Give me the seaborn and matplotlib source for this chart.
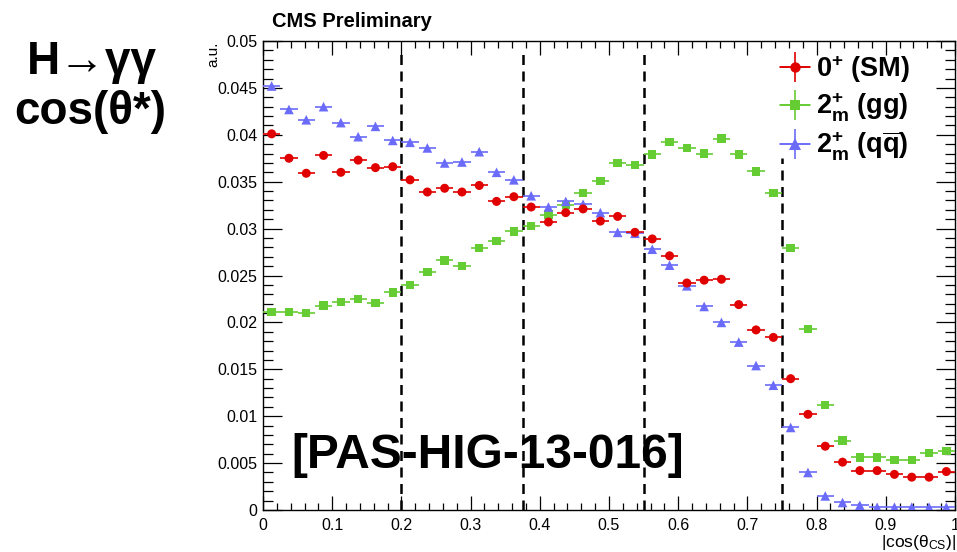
import numpy as np
import pandas as pd
import matplotlib
matplotlib.use("Agg")
import matplotlib.pyplot as plt
import seaborn as sns
from matplotlib.lines import Line2D
from matplotlib.ticker import MultipleLocator, FixedLocator
from matplotlib.legend_handler import HandlerTuple

# ---------------- data ----------------
bin_lo, bin_hi, n_bins = 0.0, 1.0, 40

sm_0p = [0.0401, 0.0375, 0.0359, 0.0378, 0.0360, 0.0373, 0.0365, 0.0366, 0.0352, 0.0339,
         0.0343, 0.0339, 0.0346, 0.0329, 0.0334, 0.0323, 0.0307, 0.0317, 0.0321, 0.0308,
         0.0313, 0.0296, 0.0289, 0.0271, 0.0242, 0.0245, 0.0246, 0.0219, 0.0192, 0.0184,
         0.0140, 0.0102, 0.0068, 0.0051, 0.0042, 0.0042, 0.0038, 0.0035, 0.0035, 0.0041]

g2m_gg = [0.0211, 0.0211, 0.0210, 0.0218, 0.0222, 0.0225, 0.0221, 0.0232, 0.0240, 0.0254,
          0.0266, 0.0260, 0.0279, 0.0287, 0.0297, 0.0303, 0.0315, 0.0325, 0.0338, 0.0351,
          0.0370, 0.0368, 0.0379, 0.0392, 0.0386, 0.0380, 0.0396, 0.0379, 0.0361, 0.0338,
          0.0279, 0.0193, 0.0112, 0.0074, 0.0056, 0.0056, 0.0053, 0.0053, 0.0061, 0.0063]

g2m_qq = [0.0452, 0.0427, 0.0416, 0.0430, 0.0413, 0.0398, 0.0409, 0.0394, 0.0392, 0.0386,
          0.0370, 0.0371, 0.0382, 0.0360, 0.0352, 0.0335, 0.0323, 0.0329, 0.0326, 0.0317,
          0.0296, 0.0295, 0.0278, 0.0261, 0.0239, 0.0217, 0.0200, 0.0179, 0.0154, 0.0133,
          0.0088, 0.0040, 0.0015, 0.0008, 0.0005, 0.0003, 0.0003, 0.0003, 0.0003, 0.0003]

err_sm, err_gg, err_qq = 0.0004, 0.00015, 0.00012

series_labels = [r"$\mathbf{0}^{\mathbf{+}}$ (SM)",
                 r"$\mathbf{2}^{\mathbf{+}}_{\mathbf{m}}$ (gg)",
                 r"$\mathbf{2}^{\mathbf{+}}_{\mathbf{m}}$ (q$\mathbf{\overline{q}}$)"]

cut_edges = [0.2, 0.375, 0.55, 0.75]
cut_tops = [0.0492, 0.0492, 0.0492, 0.0375]

x_ticks = [0, 0.1, 0.2, 0.3, 0.4, 0.5, 0.6, 0.7, 0.8, 0.9, 1]
x_tick_labels = ["0", "0.1", "0.2", "0.3", "0.4", "0.5", "0.6", "0.7", "0.8", "0.9", "1"]
y_ticks = [0, 0.005, 0.01, 0.015, 0.02, 0.025, 0.03, 0.035, 0.04, 0.045, 0.05]
y_tick_labels = ["0", "0.005", "0.01", "0.015", "0.02", "0.025", "0.03", "0.035", "0.04", "0.045", "0.05"]

# ---------------- style ----------------
sns.set_theme(style="ticks")
plt.rcParams["font.family"] = ["Liberation Sans", "DejaVu Sans"]
plt.rcParams["mathtext.fontset"] = "custom"
plt.rcParams["mathtext.rm"] = "Liberation Sans"
plt.rcParams["mathtext.it"] = "Liberation Sans:italic"
plt.rcParams["mathtext.bf"] = "Liberation Sans:bold"
plt.rcParams["mathtext.sf"] = "Liberation Sans"
plt.rcParams["text.color"] = "black"
plt.rcParams["axes.labelcolor"] = "black"
plt.rcParams["xtick.color"] = "black"
plt.rcParams["ytick.color"] = "black"

edges = np.linspace(bin_lo, bin_hi, n_bins + 1)
centers = 0.5 * (edges[:-1] + edges[1:])
half_w = 0.5 * (edges[1] - edges[0])

frames = []
for name, vals in [("sm", sm_0p), ("gg", g2m_gg), ("qq", g2m_qq)]:
    frames.append(pd.DataFrame({"x": centers, "y": vals, "series": name}))
df = pd.concat(frames, ignore_index=True)

colors = {"sm": "#e00000", "gg": "#66cc33", "qq": "#6b6bfa"}
markers = {"sm": "o", "gg": "s", "qq": "^"}
msize = {"sm": 42, "gg": 36, "qq": 48}
errs = {"sm": err_sm, "gg": err_gg, "qq": err_qq}
zord = {"gg": 3, "qq": 4, "sm": 5}

fig = plt.figure(figsize=(9.57, 5.52), dpi=100)
ax = fig.add_axes([263 / 957, 1 - 510 / 552, (955 - 263) / 957, (510 - 41) / 552])

handles = {}
for key in ["gg", "qq", "sm"]:
    sub = df[df["series"] == key]
    ax.errorbar(sub["x"], sub["y"], xerr=half_w, yerr=errs[key], fmt="none",
                ecolor=colors[key], elinewidth=1.2, capsize=0, zorder=zord[key])
    sns.scatterplot(data=sub, x="x", y="y", color=colors[key], marker=markers[key],
                    s=msize[key], edgecolor="none", linewidth=0, legend=False, ax=ax,
                    zorder=zord[key] + 0.5)
    cross = Line2D([], [], color=colors[key], marker="+", linestyle="none",
                   markersize=22, markeredgewidth=1.2)
    hline = Line2D([], [], color=colors[key], linewidth=1.2)
    mark = Line2D([], [], color=colors[key], marker=markers[key], linestyle="none",
                  markersize=np.sqrt(msize[key]) * 1.15, markeredgewidth=0)
    handles[key] = (hline, cross, mark)

for xc, yt in zip(cut_edges, cut_tops):
    ax.plot([xc, xc], [0, yt], color="black", linestyle=(0, (4, 2.6)), linewidth=1.8, zorder=2)

ax.set_xlim(bin_lo, bin_hi)
ax.set_ylim(0, 0.05)
ax.xaxis.set_major_locator(FixedLocator(x_ticks))
ax.set_xticklabels(x_tick_labels)
ax.yaxis.set_major_locator(FixedLocator(y_ticks))
ax.set_yticklabels(y_tick_labels)
ax.xaxis.set_minor_locator(MultipleLocator(0.02))
ax.yaxis.set_minor_locator(MultipleLocator(0.001))
ax.tick_params(axis="both", which="both", direction="in", top=True, right=True,
               colors="black", labelsize=11.5, width=0.9)
ax.tick_params(axis="x", which="major", length=10, pad=6)
ax.tick_params(axis="x", which="minor", length=5)
ax.tick_params(axis="y", which="major", length=14, pad=4)
ax.tick_params(axis="y", which="minor", length=7)
for s in ax.spines.values():
    s.set_color("black")
    s.set_linewidth(1.0)
ax.set_xlabel("")
ax.set_ylabel("")
ax.grid(False)

leg = ax.legend([handles["sm"], handles["gg"], handles["qq"]], series_labels,
                handler_map={tuple: HandlerTuple(ndivide=1)},
                loc="upper left", bbox_to_anchor=(780 / 957, 1 - 53 / 552),
                bbox_transform=fig.transFigure, frameon=False,
                prop={"size": 19.5, "weight": "bold"}, handlelength=1.1,
                handletextpad=0.22, labelspacing=0.22, borderaxespad=0, borderpad=0)

fig.text(272 / 957, 1 - 27 / 552, "CMS Preliminary", fontsize=14.5, weight="bold",
         ha="left", va="baseline")
fig.text(213 / 957, 1 - 42 / 552, "a.u.", fontsize=11, rotation=90, ha="center", va="top")
fig.text(956 / 957, 1 - 547 / 552, "|cos(\u03b8$_{\\mathrm{CS}}$)|", fontsize=12.5,
         ha="right", va="baseline")
fig.text(92 / 957, 1 - 62 / 552, "H\u2192\u03b3\u03b3", fontsize=33, weight="bold",
         ha="center", va="center")
fig.text(90 / 957, 1 - 112 / 552, "cos(\u03b8*)", fontsize=33, weight="bold",
         ha="center", va="center")
fig.text(488 / 957, 1 - 468 / 552, "[PAS-HIG-13-016]", fontsize=34.5, weight="bold",
         ha="center", va="baseline")

fig.savefig("out.png", dpi=100)
